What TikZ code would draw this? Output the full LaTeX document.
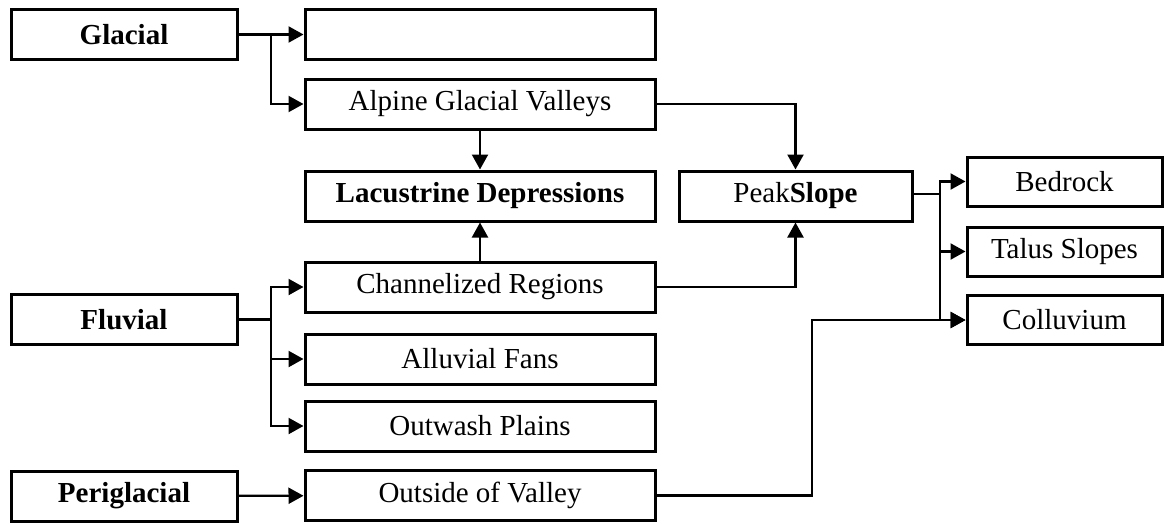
\documentclass[tikz,border=0pt]{standalone}
\usepackage{fontspec}
\setmainfont{Liberation Serif}
\usetikzlibrary{arrows.meta,positioning,calc}

\newcommand{\boxfont}{\fontsize{29}{34}\selectfont}

\begin{document}
\begin{tikzpicture}[x=1pt,y=-1pt,line width=2.2pt,
  box/.style={rectangle,draw,line width=3pt,inner sep=0pt,minimum width=350pt,minimum height=50pt,font=\boxfont},
  src box/.style={box,minimum width=226pt,font=\boxfont\bfseries},
  end box/.style={box,minimum width=195pt,minimum height=49pt},
  arr/.style={-{Triangle[length=15pt,width=16pt]}}]
\useasboundingbox (0,0) rectangle (1165,523);
\begin{scope}
\node[src box] (glacial) at (124,34.5) {Glacial};
\node[src box] (fluvial) at (124,319.5) {Fluvial};
\node[src box] (periglacial) at (124,496) {Periglacial};
\node[box] (blank) at (480,34.5) {};
\node[box] (alpine) at (480,104) {Alpine Glacial Valleys};
\node[box,font=\boxfont\bfseries] (lacustrine) at (480,196) {Lacustrine Depressions};
\node[box] (channel) at (480,287) {Channelized Regions};
\node[box] (alluvial) at (480,359) {Alluvial Fans};
\node[box] (outwash) at (480,426) {Outwash Plains};
\node[box] (outside) at (480,495.5) {Outside of Valley};
\node[box,minimum width=233pt] (peak) at (795.5,196) {Peak\textbf{Slope}};
\node[end box] (bedrock) at (1064.5,181.5) {Bedrock};
\node[end box] (talus) at (1064.5,251.5) {Talus Slopes};
\node[end box] (colluvium) at (1064.5,320) {Colluvium};
\end{scope}
\coordinate (gj) at (271,34.5);
\coordinate (fj) at (271,319.5);
\coordinate (pj) at (940,194);
\coordinate (oj) at (812,495.5);
\begin{scope}
\draw[arr] (glacial) -- (blank);
\draw[arr] (gj) |- (alpine);
\draw[arr] (alpine) -- (lacustrine);
\draw[arr] (alpine.east) -| (peak.north);
\draw[arr] (channel) -- (lacustrine);
\draw[arr] (channel.east) -| (peak.south);
\draw (fluvial.east) -- (fj);
\draw[arr] (fj) |- (channel);
\draw[arr] (fj) |- (alluvial);
\draw[arr] (fj) |- (outwash);
\draw[arr] (periglacial) -- (outside);
\draw (peak.east |- pj) -- (pj);
\draw[arr] (pj) |- (bedrock);
\draw[arr] (pj) |- (talus);
\draw[arr] (pj) |- (colluvium);
\draw[arr] (outside.east) -- (oj) |- (colluvium);
\end{scope}
\end{tikzpicture}
\end{document}
